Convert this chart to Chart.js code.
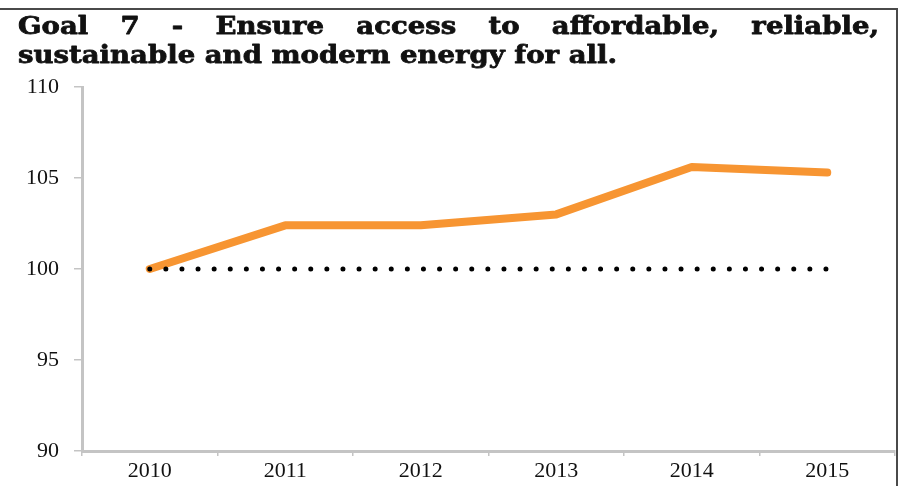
<!DOCTYPE html>
<html>
<head>
<meta charset="utf-8">
<script src="https://cdn.jsdelivr.net/npm/chart.js@4/dist/chart.umd.min.js"></script>
<style>
  html, body { margin: 0; padding: 0; background: #fff; }
  #wrap { width: 901px; height: 486px; position: relative; }
</style>
</head>
<body>
<div id="wrap"><canvas id="c" width="901" height="486"></canvas></div>
<script>
// Index values, 2010 = 100
const years = ['2010', '2011', '2012', '2013', '2014', '2015'];
const goal7Index = [100, 102.4, 102.4, 103.0, 105.6, 105.3];
const baseLevel = [100, 100, 100, 100, 100, 100];
const yTicks = [90, 95, 100, 105, 110];

const titleLines = [
  'Goal 7 - Ensure access to affordable, reliable,',
  'sustainable and modern energy for all.'
];

// Frame and justified two-line heading
const headingPlugin = {
  id: 'heading',
  afterDraw(chart) {
    const ctx = chart.ctx;
    ctx.save();
    // frame: top and right edges
    ctx.strokeStyle = '#4a4a4a';
    ctx.lineWidth = 2;
    ctx.beginPath();
    ctx.moveTo(0, 9);
    ctx.lineTo(897, 9);
    ctx.lineTo(897, 486);
    ctx.stroke();

    ctx.fillStyle = '#111';
    ctx.strokeStyle = '#111';
    ctx.lineWidth = 0.8;
    ctx.lineJoin = 'round';
    ctx.font = 'bold 25px "DejaVu Serif"';
    ctx.textBaseline = 'alphabetic';
    const left = 18;
    const line2Width = 599;
    const line1Width = 861;
    const sx = line2Width / ctx.measureText(titleLines[1]).width;

    const put = (txt, x, y) => {
      ctx.save();
      ctx.translate(x, y);
      ctx.scale(sx, 1);
      ctx.fillText(txt, 0, 0);
      ctx.strokeText(txt, 0, 0);
      ctx.restore();
    };

    // line 1, justified across the full width
    const words = titleLines[0].split(' ');
    let wordsW = 0;
    words.forEach(w => { wordsW += ctx.measureText(w).width * sx; });
    const gap = (line1Width - wordsW) / (words.length - 1);
    let x = left;
    words.forEach(w => {
      put(w, x, 34);
      x += ctx.measureText(w).width * sx + gap;
    });

    // line 2, left aligned
    put(titleLines[1], left, 63);
    ctx.restore();
  }
};

new Chart(document.getElementById('c'), {
  type: 'line',
  data: {
    labels: years,
    datasets: [
      {
        data: baseLevel,
        borderColor: '#000',
        borderWidth: 5,
        borderDash: [0, 16.1],
        borderCapStyle: 'round',
        pointRadius: 0,
        fill: false,
        tension: 0
      },
      {
        data: goal7Index,
        borderColor: '#F79532',
        borderWidth: 8,
        borderCapStyle: 'round',
        borderJoinStyle: 'round',
        pointRadius: 0,
        fill: false,
        tension: 0
      }
    ]
  },
  options: {
    responsive: false,
    animation: false,
    events: [],
    layout: { padding: { left: 0, right: 6, top: 87, bottom: 0 } },
    plugins: {
      legend: { display: false },
      tooltip: { enabled: false },
      title: { display: false }
    },
    scales: {
      x: {
        offset: true,
        grid: {
          offset: true,
          drawOnChartArea: false,
          drawTicks: true,
          tickLength: 5,
          color: '#c4c4c4',
          lineWidth: 1.5
        },
        border: { color: '#c4c4c4', width: 3 },
        ticks: {
          color: '#111',
          font: { family: '"Liberation Serif"', size: 22 },
          padding: 2,
          maxRotation: 0
        },
        afterFit(scale) { scale.height = 35; }
      },
      y: {
        min: 90,
        max: 110,
        afterBuildTicks(scale) {
          scale.ticks = yTicks.map(v => ({ value: v }));
        },
        grid: {
          drawOnChartArea: false,
          drawTicks: true,
          tickLength: 8,
          color: '#c4c4c4',
          lineWidth: 1.5
        },
        border: { color: '#c4c4c4', width: 3 },
        ticks: {
          color: '#111',
          font: { family: '"Liberation Serif"', size: 22 },
          padding: 15
        },
        afterFit(scale) { scale.width = 82; }
      }
    }
  },
  plugins: [headingPlugin]
});
</script>
</body>
</html>
